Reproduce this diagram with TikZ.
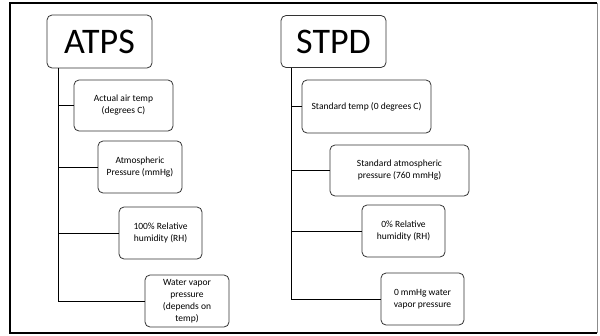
\documentclass[tikz,border=0pt]{standalone}
\usepackage{fontspec}
\setmainfont{Carlito}
\usepackage{tikz}

\tikzset{
  item/.style={draw=black!80, line width=0.8pt, rounded corners=5pt, align=center,
    inner sep=0pt, font=\fontsize{9.5}{12}\selectfont},
  head/.style={item, font=\fontsize{36}{40}\selectfont},
  link/.style={draw=black, line width=0.8pt}
}

\begin{document}
\begin{tikzpicture}[x=1pt,y=1pt,yscale=-1,xscale=1]
\useasboundingbox (0,0) rectangle (600,335);

% Frame
\draw [black, line width=2pt] (597,3) -- (10,3) -- (10,333) -- (597,333);
\draw [black!45, line width=0.8pt] (597,3) -- (597,333);

% Text Node
\node [head, minimum width=105, minimum height=53] (atps) at (99.5,41.5) {ATPS};
% Text Node
\node [item, minimum width=99, minimum height=51] (a1) at (123.5,105.5) {Actual air temp\\(degrees C)};
% Text Node
\node [item, minimum width=84, minimum height=52] (a2) at (140,167) {Atmospheric\\Pressure (mmHg)};
% Text Node
\node [item, minimum width=83, minimum height=52] (a3) at (160.5,233) {100\% Relative\\humidity (RH)};
% Text Node
\node [item, minimum width=84, minimum height=52] (a4) at (187,301) {Water vapor\\pressure\\(depends on\\temp)};

% Text Node
\node [head, minimum width=105, minimum height=52] (stpd) at (333.5,41.5) {STPD};
% Text Node
\node [item, minimum width=129, minimum height=53] (s1) at (366.5,106.5) {Standard temp (0 degrees C)};
% Text Node
\node [item, minimum width=139, minimum height=51] (s2) at (399.5,170.5) {Standard atmospheric\\pressure (760 mmHg)};
% Text Node
\node [item, minimum width=83, minimum height=52] (s3) at (403.5,231) {0\% Relative\\humidity (RH)};
% Text Node
\node [item, minimum width=83, minimum height=52] (s4) at (422.5,299) {0 mmHg water\\vapor pressure};

\coordinate (at) at ([xshift=12pt]atps.south west);
\coordinate (st) at ([xshift=11pt]stpd.south west);

% Connection
\draw [link] (at) |- (a4.west);
\draw [link] (a1.west) -- (a1.west -| at);
\draw [link] (a2.west) -- (a2.west -| at);
\draw [link] (a3.west) -- (a3.west -| at);
% Connection
\draw [link] (st) |- (s4.west);
\draw [link] (s1.west) -- (s1.west -| st);
\draw [link] (s2.west) -- (s2.west -| st);
\draw [link] (s3.west) -- (s3.west -| st);

\end{tikzpicture}
\end{document}
